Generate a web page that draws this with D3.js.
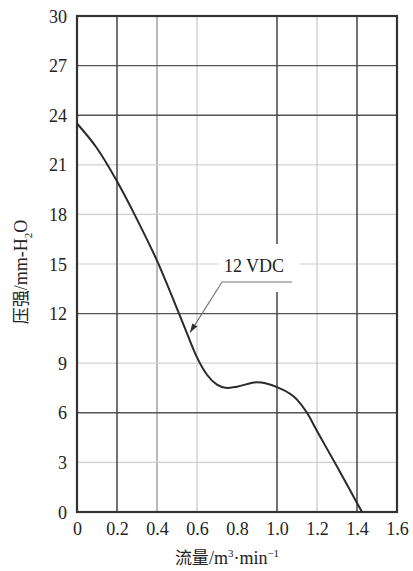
<!DOCTYPE html>
<html>
<head>
<meta charset="utf-8">
<script src="https://cdn.jsdelivr.net/npm/d3@7"></script>
<style>
  body { margin: 0; background: #fff; }
</style>
</head>
<body>
<div id="chart"></div>
<script>
// flow (m3/min) vs pressure (mm-H2O)
const flow     = [0, 0.1, 0.2, 0.3, 0.4, 0.5, 0.55, 0.6, 0.65, 0.7, 0.75, 0.8, 0.9, 1.0, 1.1, 1.15, 1.2, 1.3, 1.4, 1.425];
const pressure = [23.5, 22.0, 20.0, 17.7, 15.2, 12.3, 10.8, 9.35, 8.3, 7.7, 7.5, 7.58, 7.85, 7.55, 6.8, 6.0, 4.9, 2.75, 0.55, 0];

const xTicks = [0, 0.2, 0.4, 0.6, 0.8, 1.0, 1.2, 1.4, 1.6];
const xTickLabels = ['0', '0.2', '0.4', '0.6', '0.8', '1.0', '1.2', '1.4', '1.6'];
const yTicks = [0, 3, 6, 9, 12, 15, 18, 21, 24, 27, 30];

// grid lines in the scan come in three shades (0.8 has none)
const xGridDark = [0.2, 1.0, 1.4];
const xGridMid = [0.4];
const xGridLight = [0.6, 1.2];
const yGridDark = [6, 12, 24, 27];
const yGridLight = [3, 9, 15, 18, 21];

const seriesLabel = '12 VDC';
const labelPos = [0.9, 15];      // where the label text sits
const arrowTip = [0.565, 10.85]; // point on the curve

const serif = 'Liberation Serif, Tinos, Times New Roman, serif';
const cjk = 'Noto Sans CJK SC, sans-serif';

const W = 413, H = 571;
const margin = { top: 16, right: 16, bottom: 59, left: 77 };
const width = W - margin.left - margin.right;
const height = H - margin.top - margin.bottom;

const svg = d3.select('#chart').append('svg')
    .attr('width', W)
    .attr('height', H)
    .attr('font-family', serif);

const g = svg.append('g')
    .attr('transform', 'translate(' + margin.left + ',' + margin.top + ')');

const x = d3.scaleLinear().domain([0, 1.6]).range([0, width]);
const y = d3.scaleLinear().domain([0, 30]).range([height, 0]);

// grid
function vgrid(vals, color, w) {
    g.selectAll(null).data(vals).enter().append('line')
        .attr('x1', d => x(d)).attr('x2', d => x(d))
        .attr('y1', 0).attr('y2', height)
        .attr('stroke', color).attr('stroke-width', w);
}
function hgrid(vals, color, w) {
    g.selectAll(null).data(vals).enter().append('line')
        .attr('x1', 0).attr('x2', width)
        .attr('y1', d => y(d)).attr('y2', d => y(d))
        .attr('stroke', color).attr('stroke-width', w);
}
vgrid(xGridLight, '#c8c8c8', 1.2);
vgrid(xGridMid, '#8a8a8a', 1.2);
hgrid(yGridLight, '#cfcfcf', 1.2);
hgrid(yGridDark, '#555', 1.4);
vgrid(xGridDark, '#444', 1.5);

// label box knocks out the grid behind it
const lx = x(labelPos[0]), ly = y(labelPos[1]);
g.append('rect')
    .attr('x', lx - 38).attr('y', ly - 20)
    .attr('width', 81).attr('height', 48)
    .attr('fill', '#fff');

// frame
g.append('rect')
    .attr('x', 0).attr('y', 0)
    .attr('width', width).attr('height', height)
    .attr('fill', 'none')
    .attr('stroke', '#333')
    .attr('stroke-width', 2.2);

// curve
const line = d3.line()
    .x((d, i) => x(flow[i]))
    .y(d => y(d))
    .curve(d3.curveMonotoneX);

g.append('path')
    .datum(pressure)
    .attr('d', line)
    .attr('fill', 'none')
    .attr('stroke', '#2a2a2a')
    .attr('stroke-width', 2);

// axes
const xAxis = g.append('g')
    .call(d3.axisBottom(x).tickValues(xTicks).tickSize(0)
        .tickFormat((d, i) => xTickLabels[i]))
    .attr('transform', 'translate(0,' + height + ')')
    .attr('font-family', serif)
    .attr('font-size', 18);
xAxis.select('.domain').remove();
xAxis.selectAll('text')
    .attr('y', 23).attr('dy', 0)
    .attr('fill', '#222');

const yAxis = g.append('g')
    .call(d3.axisLeft(y).tickValues(yTicks).tickSize(0).tickPadding(10))
    .attr('font-family', serif)
    .attr('font-size', 18);
yAxis.select('.domain').remove();
yAxis.selectAll('text')
    .attr('dy', '0.34em')
    .attr('fill', '#222');

// annotation
g.append('text')
    .attr('x', lx - 3).attr('y', ly + 8)
    .attr('text-anchor', 'middle')
    .attr('font-size', 18)
    .attr('fill', '#222')
    .text(seriesLabel);

const ux1 = lx - 35, ux2 = lx + 35, uy = ly + 18;
g.append('line')
    .attr('x1', ux1).attr('x2', ux2)
    .attr('y1', uy).attr('y2', uy)
    .attr('stroke', '#777').attr('stroke-width', 1.2);

const tx = x(arrowTip[0]), ty = y(arrowTip[1]);
g.append('line')
    .attr('x1', ux1).attr('y1', uy)
    .attr('x2', tx).attr('y2', ty)
    .attr('stroke', '#777').attr('stroke-width', 1.2);

// arrow head
const ang = Math.atan2(ty - uy, tx - ux1);
const len = 9, half = 3;
const bx = tx - len * Math.cos(ang), by = ty - len * Math.sin(ang);
g.append('path')
    .attr('d', 'M' + tx + ',' + ty +
        'L' + (bx - half * Math.sin(ang)) + ',' + (by + half * Math.cos(ang)) +
        'L' + (bx + half * Math.sin(ang)) + ',' + (by - half * Math.cos(ang)) + 'Z')
    .attr('fill', '#333');

// axis titles
const xt = svg.append('text')
    .attr('x', 227).attr('y', 564)
    .attr('text-anchor', 'middle')
    .attr('font-size', 18)
    .attr('fill', '#222');
xt.append('tspan').attr('font-family', cjk).attr('font-size', 17).text('流量');
xt.append('tspan').text('/m');
xt.append('tspan').attr('dy', -7).attr('font-size', 11).text('3');
xt.append('tspan').attr('dy', 7).text('·min');
xt.append('tspan').attr('dy', -7).attr('font-size', 11).text('−1');

const yt = svg.append('text')
    .attr('transform', 'translate(27,272) rotate(-90)')
    .attr('text-anchor', 'middle')
    .attr('font-size', 18)
    .attr('fill', '#222');
yt.append('tspan').attr('font-family', cjk).attr('font-size', 17).text('压强');
yt.append('tspan').text('/mm-H');
yt.append('tspan').attr('dy', 5).attr('font-size', 11).text('2');
yt.append('tspan').attr('dy', -5).text('O');
</script>
</body>
</html>
